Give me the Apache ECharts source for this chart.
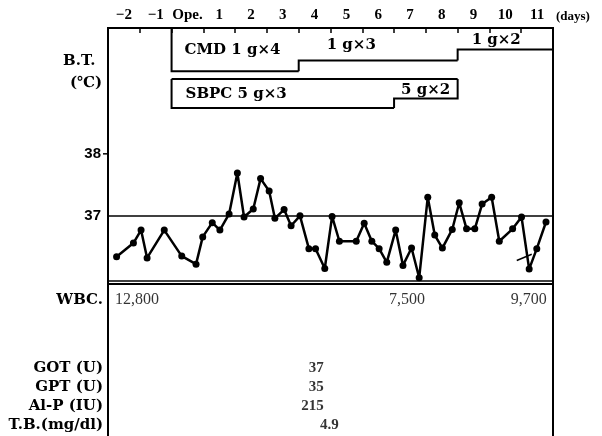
<!DOCTYPE html>
<html><head><meta charset="utf-8">
<script src="https://cdn.jsdelivr.net/npm/echarts@6/dist/echarts.min.js"></script>
<style>html,body{margin:0;padding:0;background:#fff}#c{width:602px;height:436px}</style>
</head><body><div id="c"></div>
<script>
// ---------- data ----------
const dayLabels = ['\u22122', '\u22121', 'Ope.', '1', '2', '3', '4', '5', '6', '7', '8', '9', '10', '11'];
const tempDays = [-1.73, -1.20, -0.96, -0.77, -0.23, 0.32, 0.77, 0.98, 1.28, 1.52, 1.81, 2.07, 2.28, 2.57, 2.80, 3.07, 3.25, 3.54, 3.76, 4.04, 4.32, 4.53, 4.82, 5.05, 5.28, 5.81, 6.06, 6.30, 6.53, 6.77, 7.05, 7.28, 7.55, 7.79, 8.06, 8.28, 8.52, 8.83, 9.05, 9.28, 9.54, 9.77, 10.07, 10.31, 10.73, 11.01, 11.25, 11.49, 11.78];
const tempValues = [36.34, 36.56, 36.77, 36.32, 36.77, 36.35, 36.22, 36.66, 36.89, 36.77, 37.03, 37.69, 36.98, 37.11, 37.60, 37.40, 36.96, 37.10, 36.84, 37.00, 36.47, 36.47, 36.15, 36.99, 36.59, 36.59, 36.88, 36.59, 36.47, 36.25, 36.77, 36.20, 36.48, 36.00, 37.30, 36.69, 36.48, 36.78, 37.21, 36.79, 36.79, 37.19, 37.30, 36.59, 36.79, 36.98, 36.14, 36.47, 36.90];
const strayDays = [10.86, 11.33];
const strayValues = [36.28, 36.38];
const tempLabelTicks = [37, 38];
const tempMarkTick = 38;
const cmdStart = [0, 4, 9];
const cmdEnd = [4, 9, 12];
const cmdTimes = [4, 3, 2];
const cmdLabels = ['CMD 1 g\u00d74', '1 g\u00d73', '1 g\u00d72'];
const sbpcStart = [0, 7];
const sbpcEnd = [7, 9];
const sbpcTimes = [3, 2];
const sbpcLabels = ['SBPC 5 g\u00d73', '5 g\u00d72'];
const wbcDays = [-1.09, 7.41, 11.24];
const wbcValues = [12800, 7500, 9700];
const labNames = ['GOT (U)', 'GPT (U)', 'Al-P (IU)', 'T.B.(mg/dl)'];
const labValues = [37, 35, 215, 4.9];
const labDay = 4.79;

// ---------- layout / style ----------
const SERIF = '"Liberation Serif", "Times New Roman", serif';
const DSERIF = '"DejaVu Serif", serif';
const NARROW = '"Liberation Sans Narrow", "Liberation Sans", Arial, sans-serif';
const rowPos = [16, 84, 103, 122, 141];   // pixel rows inside lab panel
const rowNames = ['WBC.'].concat(labNames);

function drugSeries(starts, ends, times, labels, topOff, unit, labelDx) {
  return {
    type: 'custom', xAxisIndex: 1, yAxisIndex: 0, silent: true, clip: false, z: 5,
    data: starts.map((s, i) => [s, ends[i], times[i]]),
    renderItem(params, api) {
      const i = params.dataIndex;
      const x0 = api.coord([api.value(0), 37])[0];
      const x1 = api.coord([api.value(1), 37])[0];
      const top = params.coordSys.y + topOff;
      const bottom = top + api.value(2) * unit;
      const prevBottom = i > 0 ? top + times[i - 1] * unit : top;
      const pts = [[x0, prevBottom], [x0, bottom], [x1, bottom]];
      if (i === starts.length - 1) pts.push([x1, top]);
      const children = [
        { type: 'polyline', shape: { points: pts }, style: { stroke: '#000', lineWidth: 2, fill: null } }
      ];
      if (i === 0) {
        const xe = api.coord([ends[ends.length - 1], 37])[0];
        children.push({ type: 'line', shape: { x1: x0, y1: top, x2: xe, y2: top }, style: { stroke: '#000', lineWidth: 2 } });
      }
      children.push({
        type: 'text', x: x0 + labelDx[i], y: (top + bottom) / 2 + 1,
        style: { text: labels[i], fill: '#000', font: 'bold 15px ' + DSERIF, align: 'left', verticalAlign: 'middle' }
      });
      return { type: 'group', children };
    }
  };
}

const fmtWbc = v => String(v).replace(/\B(?=(\d{3})+(?!\d))/g, ',');

const option = {
  animation: false,
  backgroundColor: '#fff',
  grid: [
    { left: 108, right: 49, top: 28, height: 256, show: true, borderColor: '#000', borderWidth: 2, backgroundColor: 'transparent' },
    { left: 108, right: 49, top: 284, bottom: 0 }
  ],
  xAxis: [
    { type: 'category', gridIndex: 0, position: 'top', data: dayLabels, boundaryGap: true,
      axisLine: { show: false },
      axisTick: { show: true, inside: true, length: 5, lineStyle: { color: '#000', width: 1.5 } },
      axisLabel: { margin: 5, color: '#000', fontSize: 15, fontWeight: 'bold', fontFamily: SERIF, interval: 0 },
      splitLine: { show: false } },
    { type: 'value', gridIndex: 0, min: -2, max: 12, show: false },
    { type: 'value', gridIndex: 1, min: -2, max: 12, show: false }
  ],
  yAxis: [
    { type: 'value', gridIndex: 0, min: 35.9, max: 40.03,
      axisLine: { show: false },
      axisTick: { show: false },
      axisLabel: { customValues: tempLabelTicks, margin: 7, color: '#000', fontSize: 15, fontWeight: 'bold', fontFamily: NARROW },
      splitLine: { show: false } },
    { type: 'value', gridIndex: 1, min: 0, max: 152, inverse: true, position: 'left',
      axisLine: { show: true, onZero: false, lineStyle: { color: '#000', width: 2 } },
      axisTick: { show: false }, splitLine: { show: false },
      axisLabel: { customValues: rowPos, margin: 5, color: '#000', fontSize: 15, fontWeight: 'bold', fontFamily: DSERIF,
        formatter: v => rowNames[rowPos.indexOf(v)] || '' } },
    { type: 'value', gridIndex: 1, min: 0, max: 152, inverse: true, position: 'right',
      axisLine: { show: true, onZero: false, lineStyle: { color: '#000', width: 2 } },
      axisTick: { show: false }, splitLine: { show: false }, axisLabel: { show: false } }
  ],
  series: [
    { type: 'line', xAxisIndex: 1, yAxisIndex: 0, z: 10,
      data: tempDays.map((d, i) => [d, tempValues[i]]),
      symbol: 'circle', symbolSize: 7,
      lineStyle: { color: '#000', width: 2.5 }, itemStyle: { color: '#000' },
      markLine: { silent: true, symbol: 'none', label: { show: false },
        lineStyle: { color: '#000', type: 'solid', width: 1.5 },
        data: [{ yAxis: 37 }, { yAxis: 35.955 }] } },
    { type: 'line', xAxisIndex: 1, yAxisIndex: 0, z: 10,
      data: strayDays.map((d, i) => [d, strayValues[i]]),
      symbol: 'none', lineStyle: { color: '#000', width: 1.5 } },
    drugSeries(cmdStart, cmdEnd, cmdTimes, cmdLabels, 0, 10.8, [13, 28, 14]),
    drugSeries(sbpcStart, sbpcEnd, sbpcTimes, sbpcLabels, 51, 9.7, [14, 7]),
    { type: 'scatter', xAxisIndex: 2, yAxisIndex: 1, symbolSize: 0, silent: true,
      data: wbcDays.map((d, i) => [d, rowPos[0], wbcValues[i]]),
      label: { show: true, position: 'inside', color: '#000', fontSize: 16, fontFamily: SERIF,
        formatter: p => fmtWbc(p.value[2]) } },
    { type: 'scatter', xAxisIndex: 2, yAxisIndex: 1, symbolSize: 0, silent: true,
      data: labValues.map((v, i) => ({ value: [labDay, rowPos[i + 1], v],
        label: Number.isInteger(v) ? {} : { offset: [15, 0] } })),
      label: { show: true, position: 'inside', align: 'right', color: '#000', fontSize: 15, fontWeight: 'bold', fontFamily: SERIF,
        formatter: p => String(p.value[2]) } }
  ],
  graphic: [
    { type: 'text', left: 63, top: 54, style: { text: 'B.T.', font: 'bold 15px ' + DSERIF, fill: '#000' } },
    { type: 'text', left: 70, top: 76, style: { text: '(\u2103)', font: 'bold 15px ' + DSERIF, fill: '#000' } },
    { type: 'text', left: 556, top: 10, style: { text: '(days)', font: 'bold 13px ' + SERIF, fill: '#000' } }
  ]
};

const chart = echarts.init(document.getElementById('c'), null, { renderer: 'canvas' });
chart.setOption(option);
// short outward tick at 38 on the temperature scale, positioned by the axis scales
const tp = chart.convertToPixel({ xAxisIndex: 1, yAxisIndex: 0 }, [-2, tempMarkTick]);
chart.setOption({ graphic: option.graphic.concat([
  { type: 'line', shape: { x1: tp[0] - 5, y1: tp[1], x2: tp[0], y2: tp[1] }, style: { stroke: '#000', lineWidth: 1.5 } }
]) });
</script>
</body></html>
